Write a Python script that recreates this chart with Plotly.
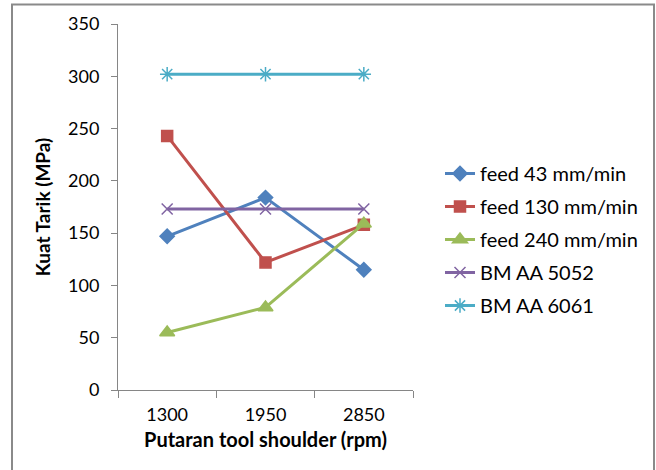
import plotly.graph_objects as go

categories = ["1300", "1950", "2850"]
feed_43 = [147, 184, 115]
feed_130 = [243, 122, 158]
feed_240 = [55, 79, 159]
bm_5052 = [173, 173, 173]
bm_6061 = [302, 302, 302]
y_ticks = [0, 50, 100, 150, 200, 250, 300, 350]

series = [
    ("feed 43 mm/min", feed_43, "#4F81BD", "diamond", 11),
    ("feed 130 mm/min", feed_130, "#C0504D", "square", 11),
    ("feed 240 mm/min", feed_240, "#9BBB59", "triangle-up", 13),
    ("BM AA 5052", bm_5052, "#8064A2", "x-thin-open", 11),
    ("BM AA 6061", bm_6061, "#4BACC6", "asterisk-open", 12),
]

W, H = 656, 470
L, R, T, B = 118, 413, 24, 390

fig = go.Figure()
for i, (name, vals, color, sym, size) in enumerate(series):
    fig.add_trace(go.Scatter(
        x=categories, y=vals, name=name, mode="lines+markers",
        line=dict(color=color, width=3),
        marker=dict(symbol=sym, size=size, color=color,
                    line=dict(color=color, width=1.5)),
        legendgroup=str(i),
    ))

def px_x(p):
    return (p - L) / (R - L)

def px_y(p):
    return (B - p) / (B - T)

fig.add_shape(type="rect", xref="paper", yref="paper",
              x0=px_x(12), x1=px_x(654), y0=px_y(480), y1=px_y(4.5),
              line=dict(color="#8a8a8a", width=2), fillcolor="rgba(0,0,0,0)",
              layer="below")

font = "Lato, Calibri, Carlito, sans-serif"
fig.update_layout(
    width=W, height=H,
    margin=dict(l=L, r=W - R, t=T, b=H - B, pad=0),
    paper_bgcolor="white", plot_bgcolor="white",
    font=dict(family=font, size=18, color="#000000"),
    showlegend=True,
    legend=dict(x=px_x(440), y=px_y(154), xanchor="left", yanchor="top",
                font=dict(family=font, size=20, color="#000000"),
                tracegroupgap=4, traceorder="grouped",
                bgcolor="rgba(0,0,0,0)"),
    xaxis=dict(type="category", tickson="boundaries", ticks="outside",
               range=[-0.5, 2.5],
               ticklen=7, tickcolor="#868686", showline=True,
               linecolor="#868686", linewidth=1, showgrid=False,
               zeroline=False, tickfont=dict(size=18),
               ticklabelstandoff=8,
               title=dict(text="<b>Putaran tool shoulder (rpm)</b>",
                          font=dict(size=20), standoff=9)),
    yaxis=dict(range=[0, 350], tickvals=y_ticks, ticks="outside",
               ticklen=6, tickcolor="#868686", showline=True,
               linecolor="#868686", linewidth=1, showgrid=False,
               zeroline=False, tickfont=dict(size=18),
               ticklabelstandoff=8,
               title=dict(text="<b>Kuat Tarik (MPa)</b>",
                          font=dict(size=19), standoff=12)),
)

fig.write_html("out.html")
